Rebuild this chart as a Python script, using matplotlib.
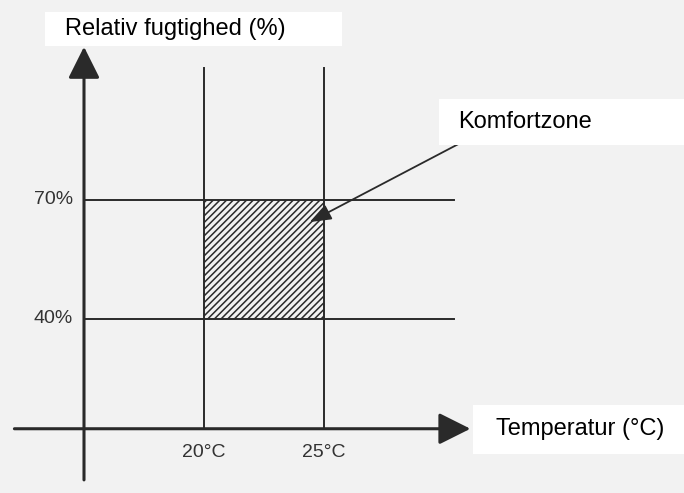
import matplotlib
matplotlib.use("Agg")
import matplotlib.pyplot as plt
from matplotlib.patches import Rectangle

plt.rcParams["font.family"] = ["Liberation Sans", "DejaVu Sans"]
plt.rcParams["hatch.linewidth"] = 1.1

# comfort zone limits
temp_bounds = [20, 25]          # degC
humidity_bounds = [40, 70]      # %
temp_labels = ["20°C", "25°C"]
humidity_labels = ["40%", "70%"]

y_label = "Relativ fugtighed (%)"
x_label = "Temperatur (°C)"
zone_label = "Komfortzone"

INK = "#2a2a2a"
BG = "#f2f2f2"

fig = plt.figure(figsize=(6.84, 4.93), dpi=100)
fig.patch.set_facecolor(BG)
ax = fig.add_axes([0, 0, 1, 1])
ax.set_facecolor(BG)
ax.set_xlim(11.5, 40)
ax.set_ylim(-3.9, 120.4)
ax.axis("off")

# axes with arrows
x_axis_y = 12.3
y_axis_x = 15
head = "-|>,head_length=1.5,head_width=0.75"
ax.annotate("", xy=(31.1, x_axis_y), xytext=(12.1, x_axis_y),
            arrowprops=dict(arrowstyle=head, color=INK, lw=2.2,
                            mutation_scale=13, shrinkA=0, shrinkB=0))
ax.annotate("", xy=(y_axis_x, 108.6), xytext=(y_axis_x, -0.6),
            arrowprops=dict(arrowstyle=head, color=INK, lw=2.2,
                            mutation_scale=13, shrinkA=0, shrinkB=0))

# grid lines for the comfort limits
for t in temp_bounds:
    ax.plot([t, t], [x_axis_y, 103.3], color=INK, lw=1.4)
for h in humidity_bounds:
    ax.plot([y_axis_x, 30.4], [h, h], color=INK, lw=1.4)

# hatched comfort zone
ax.add_patch(Rectangle((temp_bounds[0], humidity_bounds[0]),
                       temp_bounds[1] - temp_bounds[0],
                       humidity_bounds[1] - humidity_bounds[0],
                       fill=False, hatch="/////", edgecolor=INK, lw=0))

# tick labels
for t, lab in zip(temp_bounds, temp_labels):
    ax.text(t, 6.3, lab, ha="center", va="center", fontsize=14, color="#333333")
for h, lab in zip(humidity_bounds, humidity_labels):
    ax.text(14.55, h, lab, ha="right", va="center", fontsize=14, color="#333333")

# leader arrow to the zone
ax.annotate("", xy=(24.4, 64.4), xytext=(30.7, 84.4),
            arrowprops=dict(arrowstyle="-|>,head_length=1.2,head_width=0.45",
                            color=INK, lw=1.3, mutation_scale=11,
                            shrinkA=0, shrinkB=0))

# white label boxes
def label_box(x0, y0, x1, y1, text, tx, fs):
    W, H = 684, 493
    fig.patches.append(Rectangle((x0 / W, 1 - y1 / H), (x1 - x0) / W, (y1 - y0) / H,
                                 transform=fig.transFigure, facecolor="white",
                                 edgecolor="none", zorder=5))
    fig.text(tx / W, 1 - (y0 + y1) / 2 / H, text, ha="left", va="center",
             fontsize=fs, color="black", zorder=6)

label_box(45, 12, 342, 46, y_label, 65, 17)
label_box(439, 99, 684, 145, zone_label, 458, 17)
label_box(473, 405, 684, 454, x_label, 496, 17)

fig.savefig("out.png", dpi=100, facecolor=BG)
